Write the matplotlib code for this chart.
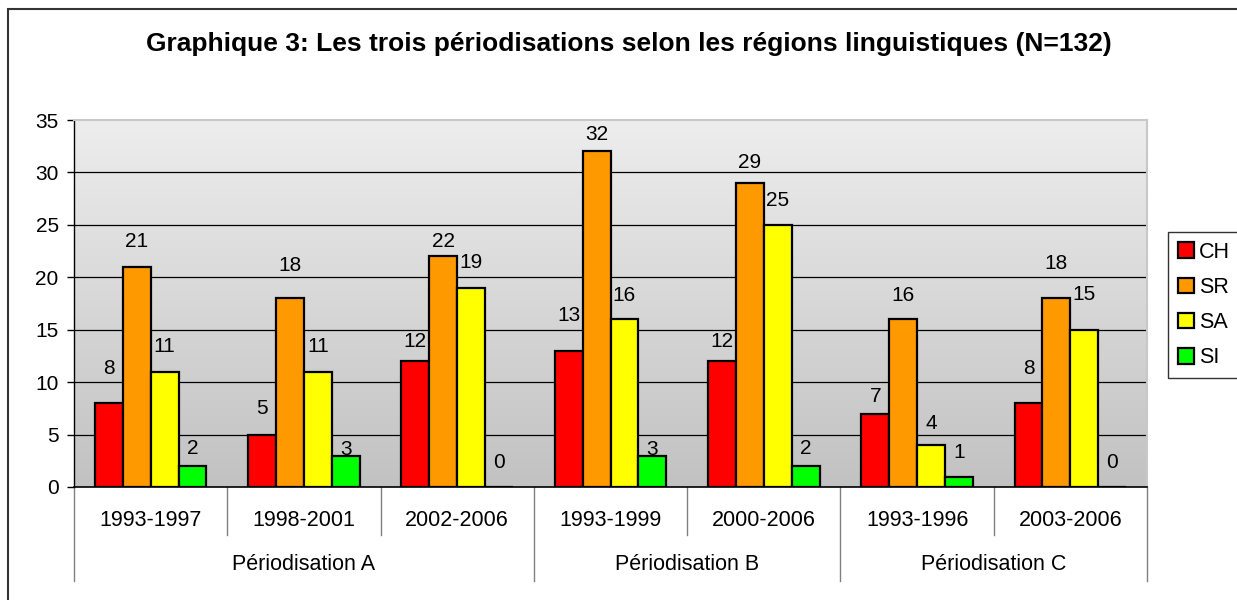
import numpy as np
import matplotlib
matplotlib.use("Agg")
from matplotlib import pyplot as plt
from matplotlib.patches import Rectangle

plt.rcParams["font.family"] = ["Liberation Sans", "DejaVu Sans"]

# Data:
periods = ["1993-1997", "1998-2001", "2002-2006",
           "1993-1999", "2000-2006",
           "1993-1996", "2003-2006"]
groups = ["Périodisation A", "Périodisation B", "Périodisation C"]
group_sizes = [3, 2, 2]
series_names = ["CH", "SR", "SA", "SI"]
ch = [8, 5, 12, 13, 12, 7, 8]
sr = [21, 18, 22, 32, 29, 16, 18]
sa = [11, 11, 19, 16, 25, 4, 15]
si = [2, 3, 0, 3, 2, 1, 0]
colors = ["#FF0000", "#FF9900", "#FFFF00", "#00FF00"]

# label lift above bar top (pixels), as placed in the original
label_dy = [
    [35, 26, 20, 35, 20, 17, 35],
    [25, 33, 15, 17, 20, 24, 35],
    [25, 25, 25, 24, 24, 22, 35],
    [18, 6, 24, 6, 18, 24, 24],
]

W, H = 1237, 600
fig = plt.figure(figsize=(W / 100, H / 100), dpi=100)
fig.patch.set_facecolor("white")

# Plot area in pixels: left 74, right 1147, top 120, bottom 487
ax = fig.add_axes([74 / W, 1 - 487 / H, (1147 - 74) / W, (487 - 120) / H])
ax_h_px = 487 - 120

# Gradient background
grad = np.linspace(0, 1, 256)
top_c = np.array([0.93, 0.93, 0.93])
bot_c = np.array([0.76, 0.76, 0.76])
img = top_c[None, :] * (1 - grad[:, None]) + bot_c[None, :] * grad[:, None]
img = img.reshape(256, 1, 3)
ax.imshow(img, extent=[0, 1, 0, 1], transform=ax.transAxes,
          aspect="auto", zorder=0)

n = len(periods)
x = np.arange(n)
bar_w = 1 / 5.5
all_series = [ch, sr, sa, si]

for gy in range(5, 35, 5):
    ax.axhline(gy, color="black", lw=0.9, zorder=1)

for i, (vals, col) in enumerate(zip(all_series, colors)):
    pos = x + (i - 1.5) * bar_w
    ax.bar(pos, vals, width=bar_w, color=col, edgecolor="black",
           linewidth=1.6, zorder=3, label=series_names[i])
    for xp, v, dy in zip(pos, vals, label_dy[i]):
        ax.annotate(str(v), (xp, v), xytext=(0, dy * 0.72),
                    textcoords="offset points",
                    ha="center", va="center", fontsize=15, zorder=2)

ax.set_xlim(-0.5, n - 0.5)
ax.set_ylim(0, 35)
ax.set_yticks(range(0, 36, 5))
ax.tick_params(axis="y", labelsize=15, length=5, width=1, direction="out", pad=6)
ax.set_xticks([])

for s in ["top", "right"]:
    ax.spines[s].set_color("#c8c8c8")
    ax.spines[s].set_linewidth(1.5)
ax.spines["left"].set_color("black")
ax.spines["bottom"].set_color("black")
ax.spines["left"].set_linewidth(1.0)
ax.spines["bottom"].set_linewidth(1.2)

# Two-level category axis
trans = ax.get_xaxis_transform()
def px(p):
    return -p / ax_h_px

lvl1_bottom = px(48)
lvl2_bottom = px(94)
for k in range(n):
    ax.text(k, px(33), periods[k], transform=trans, ha="center", va="center",
            fontsize=15.5, clip_on=False)

bounds = np.cumsum([0] + group_sizes)
for k in range(1, n):
    if k not in bounds:
        ax.plot([k - 0.5, k - 0.5], [0, lvl1_bottom], transform=trans,
                color="#808080", lw=1, clip_on=False)
for b in bounds:
    ax.plot([b - 0.5, b - 0.5], [0, lvl2_bottom], transform=trans,
            color="#808080", lw=1, clip_on=False)
for g, name in enumerate(groups):
    centre = (bounds[g] + bounds[g + 1] - 1) / 2
    ax.text(centre, px(78), name, transform=trans, ha="center", va="center",
            fontsize=15.5, clip_on=False)

# Title
fig.text(629 / W, 1 - 51 / H,
         "Graphique 3: Les trois périodisations selon les régions linguistiques (N=132)",
         ha="center", va="baseline", fontsize=19, fontweight="bold")

# Legend
leg = fig.legend(loc="upper left", bbox_to_anchor=(1168 / W, 1 - 232 / H),
                 fontsize=15.5, frameon=True, fancybox=False, shadow=False,
                 handlelength=0.75, handleheight=0.75, handletextpad=0.25,
                 labelspacing=0.66, borderpad=0.45, borderaxespad=0)
leg.get_frame().set_edgecolor("black")
leg.get_frame().set_linewidth(1.0)

# Outer chart border
fig.add_artist(Rectangle((8 / W, -0.2), 1.2, 1 - 9 / H + 0.2,
                         transform=fig.transFigure, fill=False,
                         edgecolor="#333333", lw=1.5))

fig.savefig("out.png", dpi=100)
